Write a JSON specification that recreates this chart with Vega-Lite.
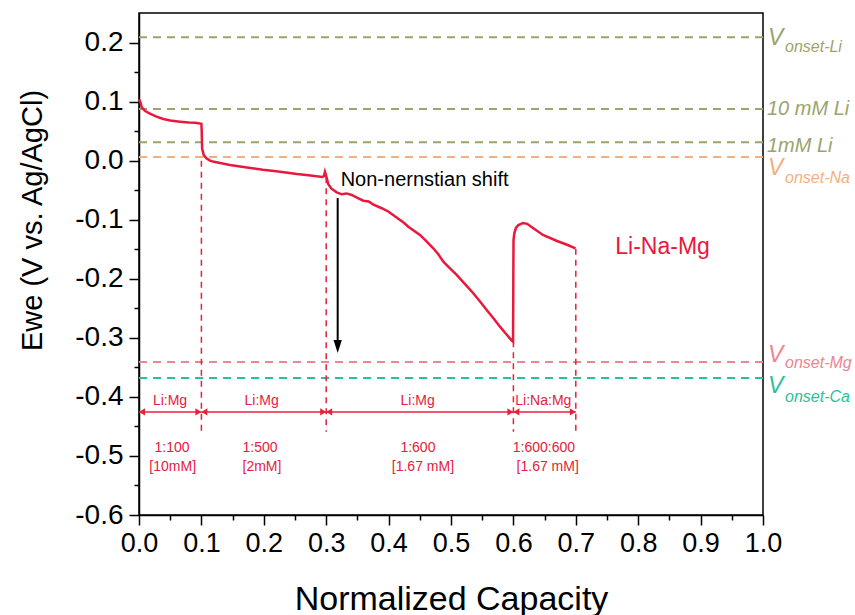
{
  "$schema": "https://vega.github.io/schema/vega-lite/v6.json",
  "autosize": {"type": "none"},
  "width": 624,
  "height": 502,
  "padding": {"left": 139, "top": 13, "right": 92, "bottom": 100},
  "background": "white",
  "config": {
    "font": "Liberation Sans",
    "view": {"stroke": "black", "strokeWidth": 1.5},
    "locale": {"number": {"decimal": ".", "thousands": ",", "grouping": [3], "currency": ["$", ""], "minus": "-"}},
    "axis": {
      "domainColor": "black", "domainWidth": 1.5, "tickColor": "black", "tickWidth": 1.5,
      "labelColor": "black", "titleColor": "black", "labelFont": "Liberation Sans",
      "titleFont": "Liberation Sans", "titleFontWeight": "normal", "grid": false,
      "labelFlush": false, "labelOverlap": false
    }
  },
  "datasets": {
    "curve": [
      {"x": 0, "y": 0.104}, {"x": 0.002, "y": 0.1}, {"x": 0.0045, "y": 0.09}, {"x": 0.01, "y": 0.084},
      {"x": 0.0176, "y": 0.0795}, {"x": 0.028, "y": 0.0745}, {"x": 0.039, "y": 0.0705}, {"x": 0.05, "y": 0.068},
      {"x": 0.0657, "y": 0.066}, {"x": 0.08, "y": 0.0645}, {"x": 0.09, "y": 0.064}, {"x": 0.1, "y": 0.0625},
      {"x": 0.1005, "y": 0.05}, {"x": 0.1008, "y": 0.035}, {"x": 0.1012, "y": 0.02}, {"x": 0.104, "y": 0.009},
      {"x": 0.108, "y": 0.004}, {"x": 0.113, "y": 0.0005}, {"x": 0.12, "y": -0.002}, {"x": 0.13, "y": -0.004},
      {"x": 0.1458, "y": -0.0073}, {"x": 0.17, "y": -0.011}, {"x": 0.1987, "y": -0.0155}, {"x": 0.22, "y": -0.018},
      {"x": 0.2532, "y": -0.0226}, {"x": 0.275, "y": -0.025}, {"x": 0.294, "y": -0.0275}, {"x": 0.2965, "y": -0.026},
      {"x": 0.298, "y": -0.019}, {"x": 0.2995, "y": -0.024}, {"x": 0.301, "y": -0.03}, {"x": 0.3034, "y": -0.04},
      {"x": 0.308, "y": -0.047}, {"x": 0.3168, "y": -0.0536}, {"x": 0.325, "y": -0.057}, {"x": 0.3325, "y": -0.0555},
      {"x": 0.3409, "y": -0.0581}, {"x": 0.35, "y": -0.063}, {"x": 0.3595, "y": -0.0678}, {"x": 0.368, "y": -0.069},
      {"x": 0.375, "y": -0.074}, {"x": 0.389, "y": -0.0806}, {"x": 0.4, "y": -0.0865}, {"x": 0.41, "y": -0.094},
      {"x": 0.4183, "y": -0.1004}, {"x": 0.425, "y": -0.1055}, {"x": 0.4316, "y": -0.1118}, {"x": 0.4503, "y": -0.1258},
      {"x": 0.46, "y": -0.136}, {"x": 0.4716, "y": -0.1484}, {"x": 0.48, "y": -0.159}, {"x": 0.4877, "y": -0.171},
      {"x": 0.498, "y": -0.182}, {"x": 0.5091, "y": -0.1936}, {"x": 0.5225, "y": -0.209}, {"x": 0.5357, "y": -0.2245},
      {"x": 0.5465, "y": -0.2385}, {"x": 0.5572, "y": -0.2528}, {"x": 0.568, "y": -0.267}, {"x": 0.5785, "y": -0.2811},
      {"x": 0.588, "y": -0.293}, {"x": 0.5973, "y": -0.3048}, {"x": 0.5994, "y": -0.3065}, {"x": 0.5997, "y": -0.25},
      {"x": 0.5999, "y": -0.19}, {"x": 0.6002, "y": -0.134}, {"x": 0.6015, "y": -0.123}, {"x": 0.604, "y": -0.114},
      {"x": 0.608, "y": -0.109}, {"x": 0.6154, "y": -0.1055}, {"x": 0.622, "y": -0.107}, {"x": 0.6314, "y": -0.114},
      {"x": 0.6474, "y": -0.1258}, {"x": 0.6699, "y": -0.136}, {"x": 0.685, "y": -0.142}, {"x": 0.6995, "y": -0.1487}
    ],
    "hlines": [
      {"ion": "Li", "y": 0.209}, {"ion": "Li", "y": 0.0875}, {"ion": "Li", "y": 0.0311},
      {"ion": "Na", "y": 0.0062}, {"ion": "Mg", "y": -0.341}, {"ion": "Ca", "y": -0.368}
    ],
    "vlines": [
      {"x": 0.1, "top": 0.0}, {"x": 0.3, "top": -0.028}, {"x": 0.6, "top": -0.306}, {"x": 0.7, "top": -0.149}
    ],
    "segments": [
      {"x1": 0, "x2": 0.1}, {"x1": 0.1, "x2": 0.3}, {"x1": 0.3, "x2": 0.6}, {"x1": 0.6, "x2": 0.7}
    ],
    "notes": [
      {"x": 0.0497, "y": -0.4069, "text": "Li:Mg"}, {"x": 0.1966, "y": -0.4069, "text": "Li:Mg"},
      {"x": 0.4466, "y": -0.4069, "text": "Li:Mg"}, {"x": 0.648, "y": -0.4069, "text": "Li:Na:Mg"},
      {"x": 0.053, "y": -0.4865, "text": "1:100"}, {"x": 0.054, "y": -0.5186, "text": "[10mM]"},
      {"x": 0.194, "y": -0.4865, "text": "1:500"}, {"x": 0.197, "y": -0.5186, "text": "[2mM]"},
      {"x": 0.447, "y": -0.4865, "text": "1:600"}, {"x": 0.455, "y": -0.5186, "text": "[1.67 mM]"},
      {"x": 0.649, "y": -0.4865, "text": "1:600:600"}, {"x": 0.655, "y": -0.5186, "text": "[1.67 mM]"}
    ],
    "onsets": [
      {"ion": "Li", "main": "V", "sub": "onset-Li", "vy": 0.1958, "sy": 0.1845},
      {"ion": "Na", "main": "V", "sub": "onset-Na", "vy": -0.0243, "sy": -0.0383},
      {"ion": "Mg", "main": "V", "sub": "onset-Mg", "vy": -0.3403, "sy": -0.3515},
      {"ion": "Ca", "main": "V", "sub": "onset-Ca", "vy": -0.3933, "sy": -0.408}
    ],
    "conc": [
      {"ion": "Li", "text": "10 mM Li", "ty": 0.0773},
      {"ion": "Li", "text": "1mM Li", "ty": 0.0152}
    ],
    "shift": [{"x": 0.3184, "top": -0.0632, "bottom": -0.31, "tip": -0.3256, "tx": 0.3232, "ty": -0.0424, "text": "Non-nernstian shift"}],
    "series": [{"x": 0.839, "y": -0.1457, "text": "Li-Na-Mg"}]
  },
  "resolve": {"axis": {"x": "independent", "y": "independent"}},
  "layer": [
    {
      "data": {"name": "hlines"},
      "mark": {"type": "rule", "strokeDash": [8, 6], "strokeWidth": 2},
      "encoding": {
        "y": {"field": "y", "type": "quantitative", "scale": {"domain": [-0.6, 0.25], "nice": false, "zero": false}, "axis": null},
        "color": {"field": "ion", "type": "nominal", "legend": null,
          "scale": {"domain": ["Li", "Na", "Mg", "Ca"], "range": ["#9ca36c", "#f4b07c", "#f0848f", "#2cbf9c"]}}
      }
    },
    {
      "data": {"name": "vlines"},
      "mark": {"type": "rule", "strokeDash": [6, 5], "strokeWidth": 1.5, "color": "#e8203c"},
      "encoding": {
        "x": {"field": "x", "type": "quantitative", "scale": {"domain": [0, 1], "nice": false, "zero": false},
          "axis": {"orient": "bottom", "values": [0.05, 0.15, 0.25, 0.35, 0.45, 0.55, 0.65, 0.75, 0.85, 0.95], "labels": false, "tickSize": 5, "domain": false, "title": null}},
        "y": {"field": "top", "type": "quantitative",
          "axis": {"orient": "left", "values": [-0.55, -0.45, -0.35, -0.25, -0.15, -0.05, 0.05, 0.15], "labels": false, "tickSize": 5, "domain": false, "title": null}},
        "y2": {"datum": -0.459}
      }
    },
    {
      "data": {"name": "curve"},
      "mark": {"type": "line", "color": "#e8193c", "strokeWidth": 2.5},
      "encoding": {
        "x": {"field": "x", "type": "quantitative",
          "axis": {"orient": "bottom", "values": [0, 0.1, 0.2, 0.3, 0.4, 0.5, 0.6, 0.7, 0.8, 0.9, 1.0], "format": ".1f", "labelFontSize": 27, "tickSize": 10, "labelPadding": 5,
            "title": "Normalized Capacity", "titleFontSize": 34, "titleY": 94, "titleBaseline": "alphabetic"}},
        "y": {"field": "y", "type": "quantitative",
          "axis": {"orient": "left", "values": [-0.6, -0.5, -0.4, -0.3, -0.2, -0.1, 0, 0.1, 0.2], "format": ".1f", "labelFontSize": 28, "tickSize": 10, "labelPadding": 6,
            "title": "Ewe (V vs. Ag/AgCl)", "titleFontSize": 29, "titleAngle": -90, "titleX": -98, "titleY": 207, "titleBaseline": "alphabetic", "titleAlign": "center"}}
      }
    },
    {
      "data": {"name": "segments"},
      "mark": {"type": "rule", "strokeWidth": 1.5, "color": "#e8203c"},
      "encoding": {
        "x": {"field": "x1", "type": "quantitative", "axis": null},
        "x2": {"field": "x2"},
        "y": {"datum": -0.4255, "type": "quantitative", "axis": null}
      }
    },
    {
      "data": {"name": "segments"},
      "mark": {"type": "point", "shape": "M0,0L1,-0.6L1,0.6Z", "size": 144, "filled": true, "opacity": 1, "color": "#e8203c"},
      "encoding": {
        "x": {"field": "x1", "type": "quantitative", "axis": null},
        "y": {"datum": -0.4255, "type": "quantitative", "axis": null}
      }
    },
    {
      "data": {"name": "segments"},
      "mark": {"type": "point", "shape": "M0,0L-1,-0.6L-1,0.6Z", "size": 144, "filled": true, "opacity": 1, "color": "#e8203c"},
      "encoding": {
        "x": {"field": "x2", "type": "quantitative", "axis": null},
        "y": {"datum": -0.4255, "type": "quantitative", "axis": null}
      }
    },
    {
      "data": {"name": "notes"},
      "mark": {"type": "text", "fontSize": 14, "color": "#e8203c", "align": "center", "baseline": "middle"},
      "encoding": {
        "x": {"field": "x", "type": "quantitative", "axis": null},
        "y": {"field": "y", "type": "quantitative", "axis": null},
        "text": {"field": "text"}
      }
    },
    {
      "data": {"name": "shift"},
      "mark": {"type": "rule", "strokeWidth": 2, "color": "black"},
      "encoding": {
        "x": {"field": "x", "type": "quantitative", "axis": null},
        "y": {"field": "top", "type": "quantitative", "axis": null},
        "y2": {"field": "bottom"}
      }
    },
    {
      "data": {"name": "shift"},
      "mark": {"type": "point", "shape": "M0,0L-0.32,-1L0.32,-1Z", "size": 676, "filled": true, "opacity": 1, "color": "black"},
      "encoding": {
        "x": {"field": "x", "type": "quantitative", "axis": null},
        "y": {"field": "tip", "type": "quantitative", "axis": null}
      }
    },
    {
      "data": {"name": "shift"},
      "mark": {"type": "text", "fontSize": 20, "color": "black", "align": "left", "baseline": "alphabetic"},
      "encoding": {
        "x": {"field": "tx", "type": "quantitative", "axis": null},
        "y": {"field": "ty", "type": "quantitative", "axis": null},
        "text": {"field": "text"}
      }
    },
    {
      "data": {"name": "series"},
      "mark": {"type": "text", "fontSize": 23, "color": "#e8193c", "align": "center", "baseline": "middle"},
      "encoding": {
        "x": {"field": "x", "type": "quantitative", "axis": null},
        "y": {"field": "y", "type": "quantitative", "axis": null},
        "text": {"field": "text"}
      }
    },
    {
      "data": {"name": "onsets"},
      "mark": {"type": "text", "fontSize": 23, "fontStyle": "italic", "align": "left", "baseline": "alphabetic", "dx": 5},
      "encoding": {
        "x": {"datum": 1, "type": "quantitative", "axis": null},
        "y": {"field": "vy", "type": "quantitative", "axis": null},
        "text": {"field": "main"},
        "color": {"field": "ion", "type": "nominal", "legend": null}
      }
    },
    {
      "data": {"name": "onsets"},
      "mark": {"type": "text", "fontSize": 16, "fontStyle": "italic", "align": "left", "baseline": "alphabetic", "dx": 22},
      "encoding": {
        "x": {"datum": 1, "type": "quantitative", "axis": null},
        "y": {"field": "sy", "type": "quantitative", "axis": null},
        "text": {"field": "sub"},
        "color": {"field": "ion", "type": "nominal", "legend": null}
      }
    },
    {
      "data": {"name": "conc"},
      "mark": {"type": "text", "fontSize": 20, "fontStyle": "italic", "align": "left", "baseline": "alphabetic", "dx": 4},
      "encoding": {
        "x": {"datum": 1, "type": "quantitative", "axis": null},
        "y": {"field": "ty", "type": "quantitative", "axis": null},
        "text": {"field": "text"},
        "color": {"field": "ion", "type": "nominal", "legend": null}
      }
    }
  ]
}
